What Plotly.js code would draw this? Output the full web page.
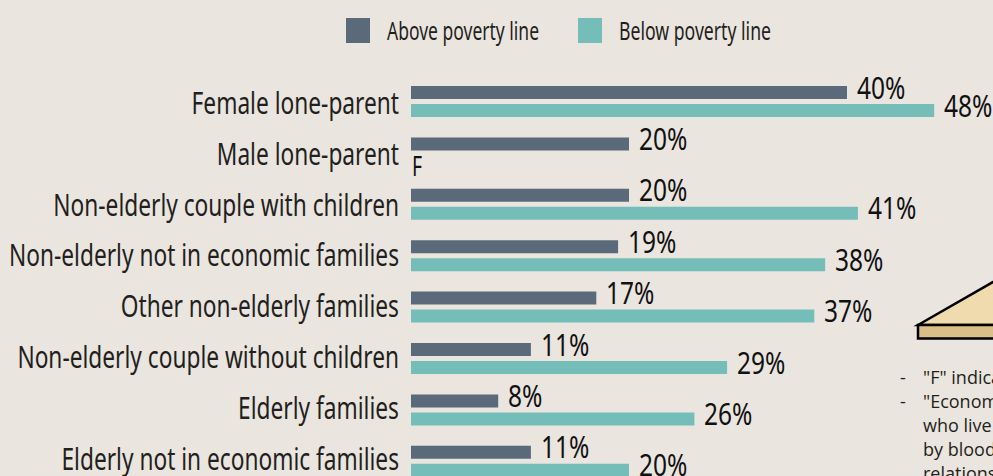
<!DOCTYPE html>
<html><head><meta charset="utf-8">
<script src="https://cdn.plot.ly/plotly-3.0.1.min.js"></script>
<style>html,body{margin:0;padding:0;background:#EAE5DF;overflow:hidden}</style>
</head><body><div id="chart" style="width:993px;height:476px"></div>
<script>
const categories = ["Female lone-parent","Male lone-parent","Non-elderly couple with children","Non-elderly not in economic families","Other non-elderly families","Non-elderly couple without children","Elderly families","Elderly not in economic families"];
const aboveName = "Above poverty line";
const belowName = "Below poverty line";
const aboveValues = [40,20,20,19,17,11,8,11];
const belowValues = [48,null,41,38,37,29,26,20];
const noteLines = ['"F" indicates','"Economic families"','who live','by blood','relationship'];

const W=993,H=476,L=411;
const px=x=>(x-L)/(W-L), py=y=>1-y/H;
const condensed='"Noto Sans",sans-serif';
const slot=51.4, off=9/slot;
const dark='#5A6A7A', teal='#75BDB8', ink='#231F20', bg='#EAE5DF';
const ann=[];
const label=(v,i,o)=>ann.push({x:v,y:i+o,xref:'x',yref:'y',text:v+'%',showarrow:false,xanchor:'left',xshift:8,yshift:6,
  font:{family:condensed,size:31,color:'#111'}});
aboveValues.forEach((v,i)=>label(v,i,-off));
belowValues.forEach((v,i)=>{ if(v!==null) label(v,i,off); else ann.push({x:0,y:i+off,xref:'x',yref:'y',text:'F',showarrow:false,xanchor:'left',xshift:-1,yshift:-4,font:{family:condensed,size:27,color:'#111'}});});
const pt=(text,x,y,size,font)=>ann.push({xref:'paper',yref:'paper',x:px(x),y:py(y),text,showarrow:false,xanchor:'left',yanchor:'middle',font:{family:font,size,color:ink}});
pt(aboveName,385,30,26,condensed);
pt(belowName,617,30,26,condensed);
const note='"Open Sans"';
pt('-',898,377,18,note);pt(noteLines[0],921,377,18,note);
pt('-',898,401,18,note);pt(noteLines[1],921,401,18,note);
pt(noteLines[2],921,425,18,note);pt(noteLines[3],921,449,18,note);pt(noteLines[4],921,473,18,note);

const rect=(x0,y0,x1,y1,c)=>({type:'rect',xref:'paper',yref:'paper',x0:px(x0),x1:px(x1),y0:py(y0),y1:py(y1),fillcolor:c,line:{width:0},layer:'above'});
const shapes=[rect(346,18,370,43,dark),rect(578,18,602,43,teal),
 {type:'path',xref:'paper',yref:'paper',path:`M ${px(918)} ${py(325)} L ${px(1000)} ${py(278)} L ${px(1000)} ${py(325)} Z`,fillcolor:'#F0DBAE',line:{color:'#000',width:2.5},layer:'above'},
 {type:'rect',xref:'paper',yref:'paper',x0:px(918),x1:px(1000),y0:py(325),y1:py(338.5),fillcolor:'#D9BE88',line:{color:'#000',width:2.5},layer:'above'}];

Plotly.newPlot('chart',[
 {type:'bar',orientation:'h',name:aboveName,y:categories,x:aboveValues,marker:{color:dark},hoverinfo:'skip'},
 {type:'bar',orientation:'h',name:belowName,y:categories,x:belowValues,marker:{color:teal},hoverinfo:'skip'}
],{
 width:W,height:H,margin:{l:L,r:0,t:0,b:0},paper_bgcolor:bg,plot_bgcolor:bg,
 showlegend:false,barmode:'group',bargap:0.30,bargroupgap:0.278,
 xaxis:{range:[0,(W-L)/10.9],visible:false,fixedrange:true},
 yaxis:{type:'category',categoryorder:'array',categoryarray:categories,range:[7.286,-1.975],showgrid:false,zeroline:false,showline:false,
   ticks:'',ticklabelstandoff:11,ticklabelshift:-2,tickfont:{family:condensed,size:30,color:ink},fixedrange:true},
 annotations:ann,shapes:shapes
},{displayModeBar:false,staticPlot:true}).then(gd=>{
  // The original type is a condensed face; squeeze the real text horizontally.
  const squeeze=(el,k)=>{el.setAttribute('textLength',(el.getComputedTextLength()*k).toFixed(1));el.setAttribute('lengthAdjust','spacingAndGlyphs');};
  const ticks=[...gd.querySelectorAll('.ytick text')];
  const longest=Math.max(...ticks.map(t=>t.getComputedTextLength()));
  ticks.forEach(t=>{
    squeeze(t,390/longest);
    // Labels in the original sit on a slightly tighter pitch than the bars.
    const i=categories.indexOf(t.textContent);
    t.setAttribute('transform',`translate(0,${(-0.58*i).toFixed(2)}) `+(t.getAttribute('transform')||''));
  });
  gd.querySelectorAll('.annotation-text').forEach(t=>{
    const s=t.textContent;
    let k=null;
    if(/%$/.test(s)) k=0.79;
    else if(s==='F') k=0.72;
    else if(s===aboveName||s===belowName) k=152/t.getComputedTextLength();
    if(k===null) return;
    const left=t.getBBox().x;
    t.setAttribute('text-anchor','start');
    t.setAttribute('x',left);
    squeeze(t,k);
  });
});
</script></body></html>
